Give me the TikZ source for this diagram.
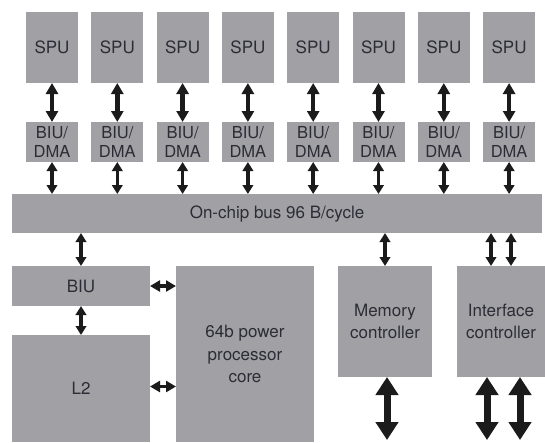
\documentclass[tikz,border=0pt]{standalone}
\usepackage{fontspec}
\setmainfont{TeX Gyre Heros}
\usetikzlibrary{arrows.meta}

\definecolor{unitgray}{HTML}{A1A1A5}
\definecolor{labelgray}{HTML}{2C2C36}
\definecolor{arrowblack}{HTML}{1B1B1B}

\tikzset{
 unit/.style={fill=unitgray,draw=none,inner sep=0pt,outer sep=0pt,
   anchor=north west,align=center,text=labelgray,
   font=\fontsize{17}{22.5}\selectfont},
 bigarrow/.style={arrowblack,line width=4.5pt,
   {Triangle[length=11pt,width=12pt]}-{Triangle[length=11pt,width=12pt]}},
 busarrow/.style={arrowblack,line width=3.5pt,
   {Triangle[length=9pt,width=10.5pt]}-{Triangle[length=9pt,width=10.5pt]}},
 sidearrow/.style={arrowblack,line width=3.5pt,
   {Triangle[length=10pt,width=11pt]}-{Triangle[length=10pt,width=11pt]}},
 outarrow/.style={arrowblack,line width=7pt,
   {Triangle[length=18pt,width=22pt]}-{Triangle[length=18pt,width=22pt]}}
}

\begin{document}
\begin{tikzpicture}[x=1pt,y=-1pt]

\useasboundingbox (0,0) rectangle (545,442);

% SPU columns
\foreach \i in {1,...,8}
 {\node[unit,minimum width=52pt,minimum height=71pt] (spu\i) at ({26+65.3*(\i-1)},12) {SPU};
 \node[unit,minimum width=52pt,minimum height=40pt,
   font=\fontsize{16.5}{18.5}\selectfont] (dma\i) at ({26+65.3*(\i-1)},122) {BIU/\\DMA};
 }

\node[unit,minimum width=530pt,minimum height=39pt] (bus) at (12,194) {On-chip bus 96 B/cycle};

\node[unit,minimum width=138pt,minimum height=40pt] (biu) at (12,266) {BIU};
\node[unit,minimum width=138pt,minimum height=107pt] (l2) at (12,335) {L2};
\node[unit,minimum width=138pt,minimum height=176pt] (core) at (176,266) {64b power\\processor\\core};
\node[unit,minimum width=94pt,minimum height=111pt] (mem) at (338,266) {Memory\\controller};
\node[unit,minimum width=88pt,minimum height=111pt] (ifc) at (457,266) {Interface\\controller};

% free ends off the chip
\coordinate (memout) at (387,440);
\coordinate (ifcout1) at (487,440);
\coordinate (ifcout2) at (520,440);

\foreach \i in {1,...,8}
 {\draw[bigarrow] (spu\i.south) -- (dma\i.north);
 \draw[busarrow] (dma\i.south) -- (dma\i.south |- bus.north);
 }

\draw[busarrow] (biu.north) -- (biu.north |- bus.south);
\draw[busarrow] (biu.south) -- (l2.north);
\draw[sidearrow] (biu.east) -- (biu.east -| core.west);
\draw[sidearrow] ([yshift=2pt]l2.east) -- ([yshift=2pt]l2.east -| core.west);

\draw[busarrow] (mem.north) -- (mem.north |- bus.south);
\draw[busarrow] ([xshift=-10pt]ifc.north) -- ([xshift=-10pt]ifc.north |- bus.south);
\draw[busarrow] ([xshift=10pt]ifc.north) -- ([xshift=10pt]ifc.north |- bus.south);

\draw[outarrow] (mem.south -| memout) -- (memout);
\draw[outarrow] (ifc.south -| ifcout1) -- (ifcout1);
\draw[outarrow] (ifc.south -| ifcout2) -- (ifcout2);

\end{tikzpicture}
\end{document}
